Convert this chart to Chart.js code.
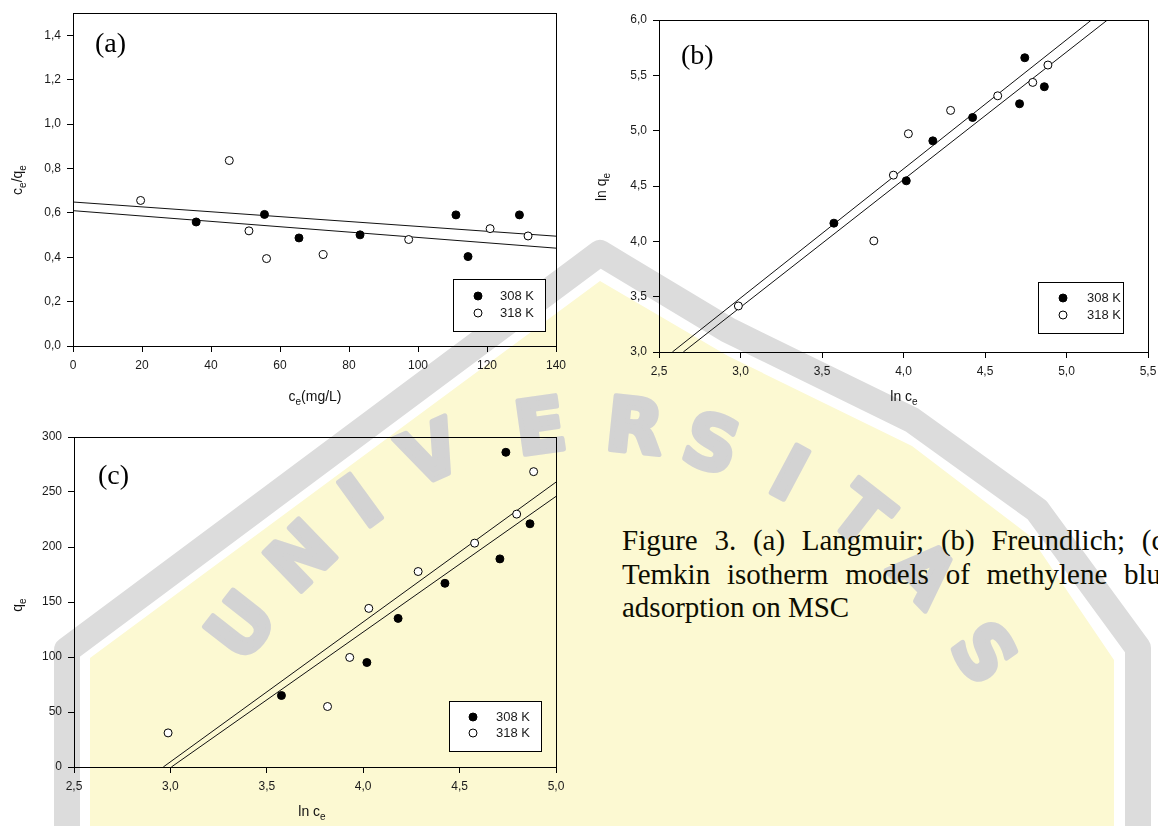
<!DOCTYPE html>
<html><head><meta charset="utf-8">
<script src="https://cdn.jsdelivr.net/npm/chart.js@4"></script>
<style>
html,body{margin:0;padding:0;width:1158px;height:826px;overflow:hidden;background:#fff;}
#wm{position:absolute;left:0;top:0;z-index:0;}
.cv{position:absolute;z-index:1;}
.cap{position:absolute;left:622px;width:552px;font-family:"Liberation Serif","Times New Roman",serif;font-size:29px;line-height:33.5px;color:#0d0d00;z-index:2;white-space:nowrap;}
.just{text-align:justify;text-align-last:justify;white-space:normal;}
</style></head><body>

<svg id="wm" width="1158" height="826" viewBox="0 0 1158 826">
  <polygon points="90,900 90,658 600,281 728,356 912,446 1030,536 1114,660 1114,900" fill="#fcf9d2"/>
  <polyline points="67,900 67,650 600,253 728,330 912,420 1037,510 1138,648 1138,900" fill="none" stroke="#dcdcdc" stroke-width="26" stroke-linejoin="round"/>
  <g font-family="DejaVu Sans, Liberation Sans, sans-serif" font-weight="bold" font-size="74" fill="#d3d3d3" stroke="#d3d3d3" stroke-width="5" stroke-linejoin="round" text-anchor="middle">
    <text transform="translate(240,625) rotate(-52)" dy="27">U</text>
    <text transform="translate(300,555) rotate(-44)" dy="27">N</text>
    <text transform="translate(360,500) rotate(-36)" dy="27">I</text>
    <text transform="translate(430,452) rotate(-24)" dy="27">V</text>
    <text transform="translate(540,425) rotate(-8)" dy="27">E</text>
    <text transform="translate(635,425) rotate(6)" dy="27">R</text>
    <text transform="translate(712,442) rotate(18)" dy="27">S</text>
    <text transform="translate(790,472) rotate(28)" dy="27">I</text>
    <text transform="translate(862,514) rotate(38)" dy="27">T</text>
    <text transform="translate(925,572) rotate(46)" dy="27">A</text>
    <text transform="translate(985,652) rotate(54)" dy="27">S</text>
  </g>
</svg>

<canvas id="ca" class="cv" width="580" height="420" style="left:0;top:0;"></canvas>
<canvas id="cb" class="cv" width="600" height="420" style="left:580px;top:0;"></canvas>
<canvas id="cc" class="cv" width="580" height="406" style="left:0;top:420px;"></canvas>

<div class="cap" style="top:524px;">
  <div class="just">Figure 3. (a) Langmuir; (b) Freundlich; (c)</div>
  <div class="just">Temkin isotherm models of methylene blue</div>
  <div>adsorption on MSC</div>
</div>

<script>
// ---------- DATA ----------
// (a) Langmuir
const ceA308 = [35.7, 55.5, 65.5, 83.2, 111.0, 114.5, 129.4];
const ratioA308 = [0.559, 0.593, 0.487, 0.501, 0.591, 0.403, 0.591];
const ceA318 = [19.6, 45.3, 51.0, 56.1, 72.5, 97.3, 120.9, 131.9];
const ratioA318 = [0.656, 0.836, 0.519, 0.394, 0.412, 0.480, 0.529, 0.496];
const fitAx = [0, 140];
const fitA308 = [0.610, 0.441];
const fitA318 = [0.649, 0.495];
const xTicksA = [0, 20, 40, 60, 80, 100, 120, 140];
const yTicksA = [0, 0.2, 0.4, 0.6, 0.8, 1.0, 1.2, 1.4];

// (b) Freundlich
const lnCeB308 = [3.573, 4.017, 4.180, 4.424, 4.712, 4.744, 4.864];
const lnQeB308 = [4.164, 4.547, 4.908, 5.119, 5.243, 5.659, 5.397];
const lnCeB318 = [2.987, 3.818, 3.938, 4.030, 4.289, 4.578, 4.793, 4.886];
const lnQeB318 = [3.416, 4.004, 4.598, 4.972, 5.183, 5.315, 5.436, 5.593];
const fitB308x = [2.582, 5.153];
const fitB308y = [3.0, 6.0];
const fitB318x = [2.649, 5.251];
const fitB318y = [3.0, 6.0];
const xTicksB = [2.5, 3.0, 3.5, 4.0, 4.5, 5.0, 5.5];
const yTicksB = [3.0, 3.5, 4.0, 4.5, 5.0, 5.5, 6.0];

// (c) Temkin
const lnCeC308 = [3.576, 4.019, 4.181, 4.424, 4.709, 4.740, 4.865];
const qeC308 = [65.0, 95.0, 135.1, 167.0, 189.2, 286.1, 221.1];
const lnCeC318 = [2.988, 3.815, 3.930, 4.029, 4.285, 4.578, 4.796, 4.884];
const qeC318 = [31.0, 55.0, 99.6, 144.2, 177.7, 203.5, 229.9, 268.5];
const fitC308x = [3.005, 5.0];
const fitC308y = [0, 246.0];
const fitC318x = [2.963, 5.0];
const fitC318y = [0, 259.0];
const xTicksC = [2.5, 3.0, 3.5, 4.0, 4.5, 5.0];
const yTicksC = [0, 50, 100, 150, 200, 250, 300];

const seriesLabels = ['308 K', '318 K'];

// ---------- HELPERS ----------
const pts = (xs, ys) => xs.map((x, i) => ({x: x, y: ys[i]}));
const SANS = 'Liberation Sans, Arial, sans-serif';

function axis(min, max, tickVals, dec, size, isX) {
  return {
    type: 'linear', min: min, max: max,
    afterBuildTicks: s => { s.ticks = tickVals.map(v => ({value: v})); },
    afterFit: s => { if (isX) s.height = size; else s.width = size; },
    grid: {display: true, drawOnChartArea: false, drawTicks: true, tickLength: 6, color: '#000', lineWidth: 1},
    border: {display: true, color: '#000', width: 1},
    ticks: {
      color: '#1a1a1a', font: {family: SANS, size: 12}, padding: 6,
      maxRotation: 0, minRotation: 0, autoSkip: false,
      callback: v => dec ? Number(v).toFixed(dec).replace('.', ',') : String(v)
    }
  };
}

function pointSet(label, data, filled) {
  return {
    label: label, data: data, order: 1,
    pointRadius: 4, pointHoverRadius: 4,
    pointBackgroundColor: filled ? '#000' : '#fff',
    pointBorderColor: '#000', pointBorderWidth: 1,
    backgroundColor: filled ? '#000' : '#fff', borderColor: '#000',
    showLine: false
  };
}
function fitSet(data) {
  return {
    label: '', isFit: true, data: data, order: 2,
    showLine: true, pointRadius: 0, pointHoverRadius: 0,
    borderColor: '#111', borderWidth: 1, fill: false
  };
}

function drawParts(ctx, parts, cx, cy, rot) {
  ctx.save();
  ctx.translate(cx, cy);
  if (rot) ctx.rotate(rot);
  const main = '14px ' + SANS, sub = '10px ' + SANS;
  let total = 0;
  parts.forEach(p => { ctx.font = p[1] ? sub : main; total += ctx.measureText(p[0]).width; });
  let x = -total / 2;
  ctx.fillStyle = '#111';
  ctx.textBaseline = 'middle';
  ctx.textAlign = 'left';
  parts.forEach(p => {
    ctx.font = p[1] ? sub : main;
    ctx.fillText(p[0], x, p[1] ? 5 : 0);
    x += ctx.measureText(p[0]).width;
  });
  ctx.restore();
}

const decor = {
  id: 'decor',
  afterDraw(chart, args, o) {
    const ctx = chart.ctx, a = chart.chartArea;
    ctx.save();
    ctx.strokeStyle = '#000'; ctx.lineWidth = 1;
    ctx.strokeRect(Math.round(a.left) + 0.5, Math.round(a.top) + 0.5, Math.round(a.right - a.left), Math.round(a.bottom - a.top));
    drawParts(ctx, o.xTitle.parts, o.xTitle.x, o.xTitle.y, 0);
    drawParts(ctx, o.yTitle.parts, o.yTitle.x, o.yTitle.y, -Math.PI / 2);
    ctx.font = '28px "Liberation Serif", "Times New Roman", serif';
    ctx.fillStyle = '#000'; ctx.textBaseline = 'middle'; ctx.textAlign = 'left';
    ctx.fillText(o.panel.text, o.panel.x, o.panel.y);
    const L = o.legend;
    ctx.fillStyle = '#fff';
    ctx.fillRect(L.box[0], L.box[1], L.box[2] - L.box[0], L.box[3] - L.box[1]);
    ctx.strokeStyle = '#000'; ctx.lineWidth = 1;
    ctx.strokeRect(L.box[0] + 0.5, L.box[1] + 0.5, L.box[2] - L.box[0], L.box[3] - L.box[1]);
    let r = 0;
    chart.data.datasets.forEach(ds => {
      if (ds.isFit) return;
      const y = L.rows[r++];
      ctx.beginPath();
      ctx.arc(L.markerX, y, 4, 0, Math.PI * 2);
      ctx.fillStyle = ds.pointBackgroundColor; ctx.fill();
      ctx.strokeStyle = ds.pointBorderColor; ctx.lineWidth = 1; ctx.stroke();
      ctx.font = '13px ' + SANS; ctx.fillStyle = '#1a1a1a';
      ctx.textBaseline = 'middle'; ctx.textAlign = 'left';
      ctx.fillText(ds.label, L.textX, y);
    });
    ctx.restore();
  }
};

function makeChart(id, datasets, xAx, yAx, pad, deco) {
  return new Chart(document.getElementById(id), {
    type: 'scatter',
    data: {datasets: datasets},
    options: {
      responsive: false, animation: false, devicePixelRatio: 1,
      layout: {padding: pad},
      scales: {x: xAx, y: yAx},
      plugins: {legend: {display: false}, tooltip: {enabled: false}, decor: deco}
    },
    plugins: [decor]
  });
}

// (a)
makeChart('ca', [
  pointSet(seriesLabels[0], pts(ceA308, ratioA308), true),
  pointSet(seriesLabels[1], pts(ceA318, ratioA318), false),
  fitSet(pts(fitAx, fitA308)),
  fitSet(pts(fitAx, fitA318))
], axis(0, 140, xTicksA, 0, 74, true), axis(0, 1.5, yTicksA, 1, 73, false),
{left: 0, top: 10, right: 24, bottom: 0},
{
  xTitle: {parts: [['c', 0], ['e', 1], ['(mg/L)', 0]], x: 315, y: 397},
  yTitle: {parts: [['c', 0], ['e', 1], ['/q', 0], ['e', 1]], x: 18, y: 180},
  panel: {text: '(a)', x: 95, y: 45},
  legend: {box: [453, 279, 545, 331], rows: [296, 313], markerX: 478, textX: 500}
});

// (b)
makeChart('cb', [
  pointSet(seriesLabels[0], pts(lnCeB308, lnQeB308), true),
  pointSet(seriesLabels[1], pts(lnCeB318, lnQeB318), false),
  fitSet(pts(fitB308x, fitB308y)),
  fitSet(pts(fitB318x, fitB318y))
], axis(2.5, 5.5, xTicksB, 1, 68, true), axis(3, 6, yTicksB, 1, 79, false),
{left: 0, top: 20, right: 32, bottom: 0},
{
  xTitle: {parts: [['ln c', 0], ['e', 1]], x: 324, y: 397},
  yTitle: {parts: [['ln q', 0], ['e', 1]], x: 22, y: 187},
  panel: {text: '(b)', x: 101, y: 57},
  legend: {box: [458, 282, 543, 333], rows: [298, 315], markerX: 483, textX: 507}
});

// (c)
makeChart('cc', [
  pointSet(seriesLabels[0], pts(lnCeC308, qeC308), true),
  pointSet(seriesLabels[1], pts(lnCeC318, qeC318), false),
  fitSet(pts(fitC308x, fitC308y)),
  fitSet(pts(fitC318x, fitC318y))
], axis(2.5, 5.0, xTicksC, 1, 59, true), axis(0, 300, yTicksC, 0, 74, false),
{left: 0, top: 17, right: 24, bottom: 0},
{
  xTitle: {parts: [['ln c', 0], ['e', 1]], x: 312, y: 392},
  yTitle: {parts: [['q', 0], ['e', 1]], x: 18, y: 185},
  panel: {text: '(c)', x: 98, y: 57},
  legend: {box: [449, 281, 541, 331], rows: [297, 313], markerX: 473, textX: 496}
});
</script>
</body></html>
